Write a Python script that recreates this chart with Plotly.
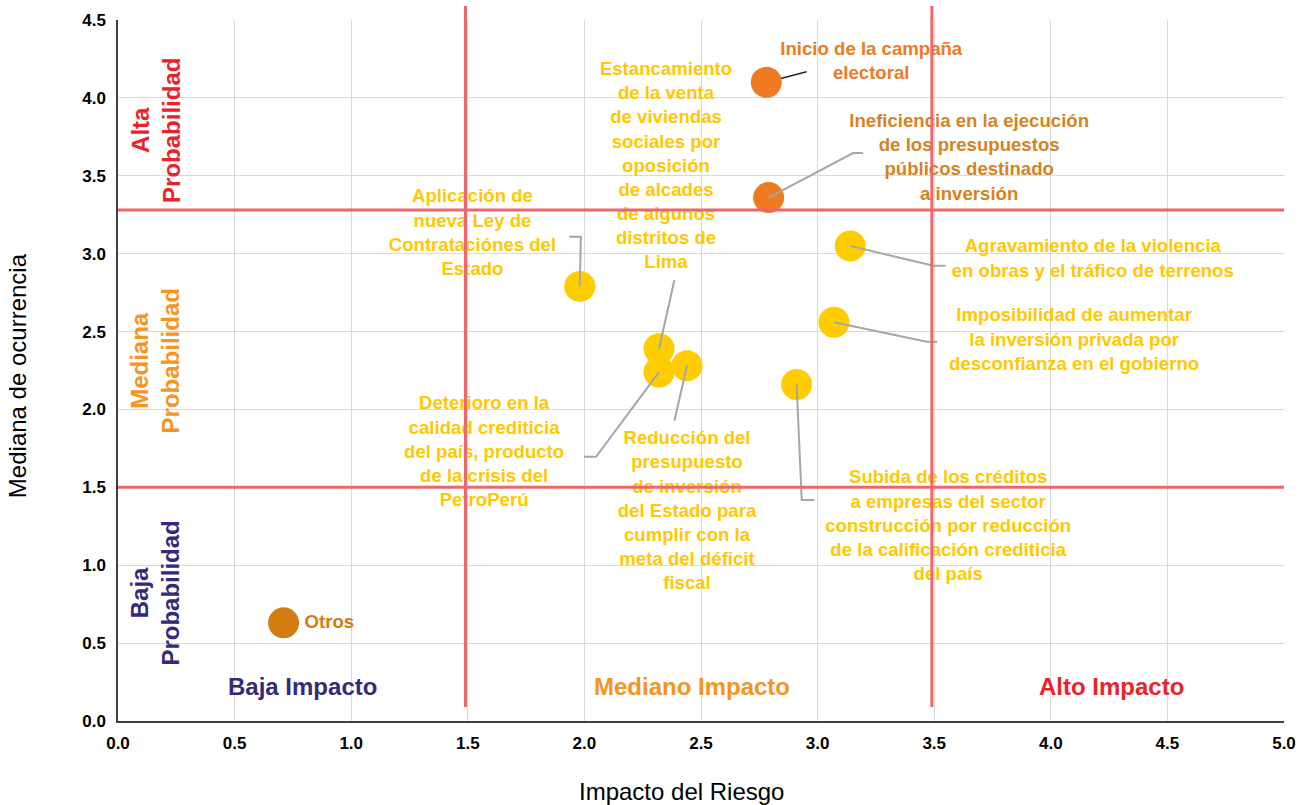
import plotly.graph_objects as go

# ---- data ----
riesgos = [
    "Inicio de la campaña<br>electoral",
    "Ineficiencia en la ejecución<br>de los presupuestos<br>públicos destinado<br>a inversión",
    "Agravamiento de la violencia<br>en obras y el tráfico de terrenos",
    "Imposibilidad de aumentar<br>la inversión privada por<br>desconfianza en el gobierno",
    "Subida de los créditos<br>a empresas del sector<br>construcción por reducción<br>de la calificación crediticia<br>del país",
    "Aplicación de<br>nueva Ley de<br>Contrataciónes del<br>Estado",
    "Estancamiento<br>de la venta<br>de viviendas<br>sociales por<br>oposición<br>de alcades<br>de algunos<br>distritos de<br>Lima",
    "Deterioro en la<br>calidad crediticia<br>del país, producto<br>de la crisis del<br>PetroPerú",
    "Reducción del<br>presupuesto<br>de inversión<br>del Estado para<br>cumplir con la<br>meta del déficit<br>fiscal",
    "Otros",
]
impacto = [2.78, 2.79, 3.14, 3.07, 2.91, 1.98, 2.32, 2.32, 2.44, 0.71]
probabilidad = [4.10, 3.36, 3.05, 2.56, 2.16, 2.79, 2.39, 2.24, 2.28, 0.63]

x_ticks = [0.0, 0.5, 1.0, 1.5, 2.0, 2.5, 3.0, 3.5, 4.0, 4.5, 5.0]
y_ticks = [0.0, 0.5, 1.0, 1.5, 2.0, 2.5, 3.0, 3.5, 4.0, 4.5]

# quadrant boundaries
limites_impacto = [1.49, 3.49]
limites_prob = [1.5, 3.28]

# ---- styling ----
FONT = "Liberation Sans, Arial, sans-serif"
NARANJA = "#F07A22"
AMARILLO = "#FFCC00"
OCRE = "#D27C12"
ROJO_LINEA = "#EC666B"
GRIS = "#A6A6A6"

marker_colors = [NARANJA, NARANJA, AMARILLO, AMARILLO, AMARILLO,
                 AMARILLO, AMARILLO, AMARILLO, AMARILLO, OCRE]
label_colors = ["#F07A22", "#D6831E", "#FFC800", "#FFC800", "#FFC800",
                "#FFC800", "#FFC800", "#FFC800", "#FFC800", "#D27C12"]

# label placement (block centres) and leader-line bends
label_x = [3.23, 3.65, 4.18, 4.10, 3.56, 1.52, 2.35, 1.57, 2.44, 0.80]
label_y = [4.23, 3.61, 2.96, 2.44, 1.245, 3.126, 3.556, 1.72, 1.341, 0.63]
label_pos = ["middle center"] * 9 + ["middle right"]

leaders = [
    [(2.953, 4.168)],
    [(3.152, 3.646), (3.195, 3.646)],
    [(3.496, 2.922), (3.549, 2.922)],
    [(3.468, 2.435), (3.513, 2.435)],
    [(2.932, 1.418), (2.986, 1.418)],
    [(1.985, 3.108), (1.935, 3.108)],
    [(2.386, 2.831)],
    [(2.050, 1.696), (1.998, 1.696)],
    [(2.386, 1.927)],
    [],
]

fig = go.Figure()

# first leader (dark) sits beneath its marker
lx, ly = [impacto[0]], [probabilidad[0]]
for px, py in leaders[0]:
    lx.append(px)
    ly.append(py)
fig.add_trace(go.Scatter(x=lx, y=ly, mode="lines",
                         line=dict(color="#262626", width=1.5),
                         hoverinfo="skip", showlegend=False))

fig.add_trace(go.Scatter(
    x=impacto, y=probabilidad, mode="markers",
    marker=dict(size=31, color=marker_colors, line=dict(width=0)),
    hoverinfo="skip", showlegend=False))

# grey leaders over the markers
gx, gy = [], []
for i in range(1, len(leaders)):
    if not leaders[i]:
        continue
    gx.append(impacto[i])
    gy.append(probabilidad[i])
    for px, py in leaders[i]:
        gx.append(px)
        gy.append(py)
    gx.append(None)
    gy.append(None)
fig.add_trace(go.Scatter(x=gx, y=gy, mode="lines",
                         line=dict(color=GRIS, width=2),
                         hoverinfo="skip", showlegend=False))

fig.add_trace(go.Scatter(
    x=label_x, y=label_y, mode="text", text=riesgos,
    textposition=label_pos,
    textfont=dict(family=FONT, size=18.6, color=label_colors, weight="bold"),
    hoverinfo="skip", showlegend=False, cliponaxis=False))

# quadrant lines
for v in limites_impacto:
    fig.add_shape(type="line", xref="x", yref="paper", x0=v, x1=v,
                  y0=0.02, y1=1.02, layer="above",
                  line=dict(color=ROJO_LINEA, width=3))
for h in limites_prob:
    fig.add_shape(type="line", xref="paper", yref="y", x0=0, x1=1,
                  y0=h, y1=h, layer="above",
                  line=dict(color=ROJO_LINEA, width=3))

# quadrant captions
imp_caps = [("Baja Impacto", 0.79, "#352A7A"),
            ("Mediano Impacto", 2.46, "#F7941D"),
            ("Alto Impacto", 4.26, "#E8232A")]
for txt, xv, col in imp_caps:
    fig.add_annotation(x=xv, y=0.22, xref="x", yref="y", text=txt,
                       showarrow=False,
                       font=dict(family=FONT, size=24, color=col, weight="bold"))

prob_caps = [("Alta<br>Probabilidad", 3.79, "#E8232A"),
             ("Mediana<br>Probabilidad", 2.31, "#F7941D"),
             ("Baja<br>Probabilidad", 0.82, "#352A7A")]
for txt, yv, col in prob_caps:
    fig.add_annotation(x=0.16, y=yv, xref="x", yref="y", text=txt,
                       textangle=-90, showarrow=False,
                       font=dict(family=FONT, size=24, color=col, weight="bold"))

# axis titles
fig.add_annotation(x=-0.086, y=0.493, xref="paper", yref="paper",
                   xanchor="center", yanchor="middle",
                   text="Mediana de ocurrencia", textangle=-90, showarrow=False,
                   font=dict(family=FONT, size=24, color="#000000"))
fig.add_annotation(x=0.483, y=-0.1, xref="paper", yref="paper",
                   xanchor="center", yanchor="middle",
                   text="Impacto del Riesgo", showarrow=False,
                   font=dict(family=FONT, size=24, color="#000000"))

axis_common = dict(
    showgrid=True, gridcolor="#D9D9D9", gridwidth=1,
    zeroline=False, showline=True, linecolor="#404040", linewidth=1.5,
    ticks="", tickformat=".1f",
    tickfont=dict(family=FONT, size=17, color="#000000", weight="bold"),
)
fig.update_xaxes(range=[0, 5], tickvals=x_ticks, ticklabelstandoff=6,
                 **axis_common)
fig.update_yaxes(range=[0, 4.5], tickvals=y_ticks, ticklabelstandoff=7,
                 **axis_common)

fig.update_layout(
    width=1308, height=805,
    margin=dict(l=118, r=24, t=20, b=84),
    paper_bgcolor="white", plot_bgcolor="white",
    showlegend=False,
)

fig.write_html("out.html")
